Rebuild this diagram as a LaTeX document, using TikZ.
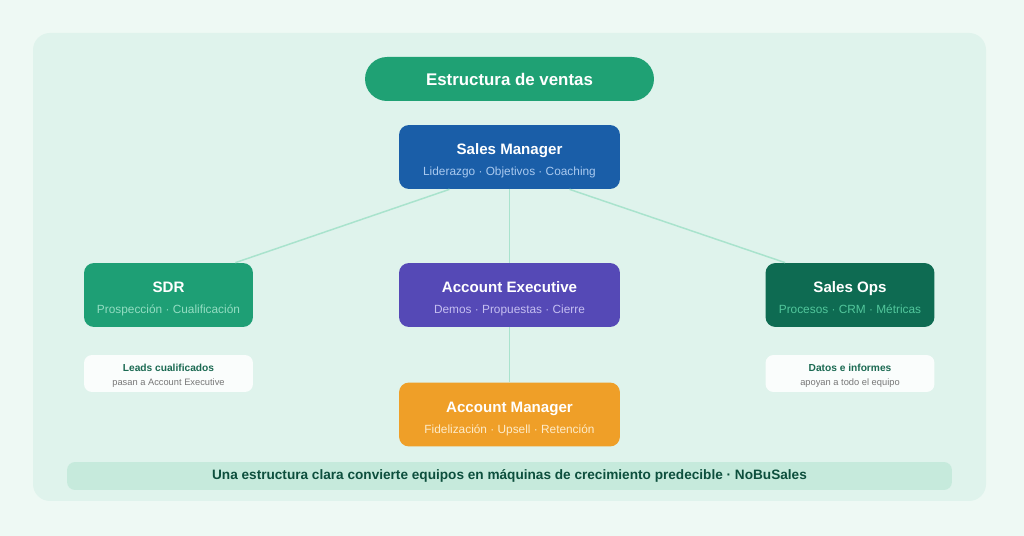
\documentclass[tikz,border=0pt]{standalone}
\usepackage{fontspec}
\setmainfont{Liberation Sans}
\usetikzlibrary{calc}

\definecolor{pagebg}{HTML}{EEF9F4}
\definecolor{panelbg}{HTML}{DFF3EC}
\definecolor{titlegreen}{HTML}{1FA174}
\definecolor{smblue}{HTML}{1A5EA8}
\definecolor{smsub}{HTML}{A9C9EF}
\definecolor{sdrgreen}{HTML}{1E9F75}
\definecolor{sdrsub}{HTML}{93DDC2}
\definecolor{aepurple}{HTML}{5549B6}
\definecolor{aesub}{HTML}{C5BFF1}
\definecolor{opsgreen}{HTML}{0E6B52}
\definecolor{opssub}{HTML}{52C79C}
\definecolor{amorange}{HTML}{EF9F28}
\definecolor{amsub}{HTML}{FDEBC9}
\definecolor{notehead}{HTML}{1B6A52}
\definecolor{notetext}{HTML}{777777}
\definecolor{footfill}{HTML}{C6EADC}
\definecolor{foottext}{HTML}{0D4F3D}
\definecolor{linkline}{HTML}{A9E3CD}

\newcommand{\rolehead}[1]{{\fontsize{8.6}{10}\selectfont\bfseries #1}}
\newcommand{\rolesub}[2]{{\fontsize{6.75}{8}\selectfont\color{#1}#2}}

\begin{document}
\begin{tikzpicture}[x=0.02cm,y=-0.02cm,
    role/.style={rounded corners=0.2cm, minimum height=1.28cm, inner sep=0pt,
      text height=22.8pt, text depth=1.5pt, align=center, text=white},
    wide/.style={role, minimum width=4.42cm},
    narrow/.style={role, minimum width=3.38cm},
    note/.style={fill=white, fill opacity=0.85, text opacity=1, rounded corners=0.16cm,
      minimum width=3.38cm, minimum height=0.74cm, inner sep=0pt, text height=14.6pt, align=center},
    link/.style={draw=linkline, line width=0.85pt}]

  % background and panel
  \fill[pagebg] (0,0) rectangle (1024,536);
  \fill[panelbg, rounded corners=0.34cm] (33,33) rectangle (986,501);
  \useasboundingbox (0,0) rectangle (1024,536);

  % title
  \node[fill=titlegreen, rounded corners=0.44cm, minimum width=5.78cm, minimum height=0.88cm,
    text=white, font=\fontsize{9.6}{11}\selectfont\bfseries] (title) at (509.5,79) {Estructura de ventas};

  % roles
  \node[wide, fill=smblue] (sm) at (509.5,157)
    {\rolehead{Sales Manager}\\\rolesub{smsub}{Liderazgo · Objetivos · Coaching}};
  \node[narrow, fill=sdrgreen] (sdr) at (168.5,295)
    {\rolehead{SDR}\\\rolesub{sdrsub}{Prospección · Cualificación}};
  \node[wide, fill=aepurple] (ae) at (509.5,295)
    {\rolehead{Account Executive}\\\rolesub{aesub}{Demos · Propuestas · Cierre}};
  \node[narrow, fill=opsgreen] (ops) at (850,295)
    {\rolehead{Sales Ops}\\\rolesub{opssub}{Procesos · CRM · Métricas}};
  \node[wide, fill=amorange] (am) at (509.5,414.5)
    {\rolehead{Account Manager}\\\rolesub{amsub}{Fidelización · Upsell · Retención}};

  % links
  \draw[link] ($(sm.south)+(-60,0)$) -- ($(sdr.north east)+(-18,0)$);
  \draw[link] (sm.south) -- (ae.north);
  \draw[link] ($(sm.south)+(60,0)$) -- ($(ops.north west)+(20,0)$);
  \draw[link] (ae.south) -- (am.north);

  % notes
  \node[note] (sdrnote) at (168.5,373.5)
    {{\fontsize{5.8}{7}\selectfont\bfseries\color{notehead}Leads cualificados}\\[-4pt]
     {\fontsize{5.3}{6}\selectfont\color{notetext}pasan a Account Executive}};
  \node[note] (opsnote) at (850,373.5)
    {{\fontsize{5.8}{7}\selectfont\bfseries\color{notehead}Datos e informes}\\[-4pt]
     {\fontsize{5.3}{6}\selectfont\color{notetext}apoyan a todo el equipo}};

  % footer
  \node[fill=footfill, rounded corners=0.16cm, minimum width=17.7cm, minimum height=0.56cm,
    text=foottext, font=\fontsize{7.75}{9}\selectfont\bfseries] (footer) at (509.5,476)
    {Una estructura clara convierte equipos en máquinas de crecimiento predecible · NoBuSales};
\end{tikzpicture}
\end{document}
